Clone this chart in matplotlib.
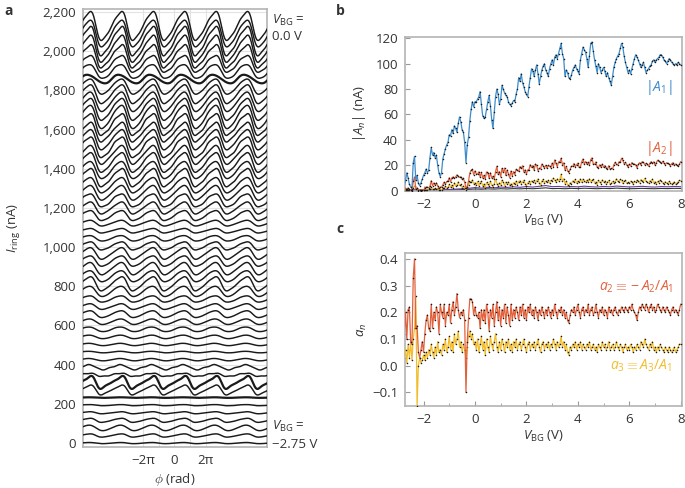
import numpy as np
import matplotlib
matplotlib.use('Agg')
import matplotlib.pyplot as plt
from matplotlib.ticker import FuncFormatter, MultipleLocator

plt.rcParams['font.family'] = ['Open Sans', 'DejaVu Sans']
plt.rcParams['mathtext.fontset'] = 'custom'
plt.rcParams['mathtext.rm'] = 'Open Sans'
plt.rcParams['mathtext.it'] = 'Open Sans:italic'
plt.rcParams['mathtext.bf'] = 'Open Sans:bold'
plt.rcParams['font.size'] = 9
plt.rcParams['text.color'] = '#333333'
plt.rcParams['axes.labelcolor'] = '#333333'
plt.rcParams['xtick.color'] = '#999999'
plt.rcParams['ytick.color'] = '#999999'
plt.rcParams['xtick.labelcolor'] = '#333333'
plt.rcParams['ytick.labelcolor'] = '#333333'

# back-gate sweep: -2.75 V ... 8.00 V in 0.05 V steps
v_start = -2.75
v_step = 0.05

# first harmonic amplitude |A1| (nA)
A1 = [3, 8, 14, 10, 5, 3, 1.5, 22, 27, 8,
      12, 6, 4, 6, 9, 12, 14, 17, 14, 16,
      26, 34, 28, 30, 26, 28, 20, 14, 11, 14,
      25, 29, 33, 36, 38, 44, 43, 48, 45, 51,
      49, 46, 53, 58, 54, 48, 46, 38, 22, 36,
      42, 55, 64, 70, 66, 70, 70, 72, 74, 78,
      68, 59, 57, 58, 64, 70, 75, 67, 56, 49,
      62, 74, 80, 76, 68, 72, 83, 80, 77, 75,
      74, 70, 68, 67, 69, 71, 70, 76, 80, 89,
      86, 92, 85, 82, 78, 76, 74, 82, 89, 96,
      94, 90, 95, 99, 92, 84, 90, 95, 98, 100,
      95, 93, 90, 96, 100, 103, 99, 105, 107, 104,
      108, 112, 116, 108, 104, 90, 95, 93, 89, 88,
      91, 95, 97, 99, 96, 94, 92, 103, 108, 113,
      111, 109, 104, 97, 106, 116, 117, 110, 103, 98,
      93, 100, 97, 93, 95, 97, 94, 90, 93, 89,
      86, 83, 90, 97, 101, 104, 106, 108, 112, 116,
      113, 106, 101, 97, 93, 95, 92, 96, 100, 104,
      107, 105, 103, 100, 97, 99, 101, 97, 93, 95,
      96, 98, 99, 102, 103, 101, 103, 104, 105, 107,
      107, 105, 103, 102, 100, 102, 104, 103, 101, 100,
      99, 100, 99, 101, 100, 99]

# a2 = -A2/A1
a2 = [0.12, 0.20, 0.10, 0.21, 0.22, 0.09, 0.08, 0.33, 0.40, 0.14,
      0.15, 0.05, 0.03, 0.06, 0.09, 0.05, 0.12, 0.17, 0.19, 0.14,
      0.13, 0.23, 0.14, 0.20, 0.17, 0.22, 0.20, 0.12, 0.23, 0.20,
      0.18, 0.23, 0.15, 0.20, 0.19, 0.23, 0.16, 0.21, 0.24, 0.19,
      0.22, 0.27, 0.21, 0.18, 0.20, 0.19, 0.21, 0.17, -0.10, 0.09,
      0.18, 0.25, 0.25, 0.24, 0.19, 0.22, 0.19, 0.18, 0.20, 0.14,
      0.21, 0.17, 0.21, 0.16, 0.23, 0.20, 0.13, 0.21, 0.18, 0.23,
      0.15, 0.20, 0.24, 0.17, 0.22, 0.15, 0.21, 0.18, 0.23, 0.16,
      0.22, 0.19, 0.15, 0.23, 0.17, 0.21, 0.18, 0.22, 0.20, 0.17,
      0.22, 0.19, 0.23, 0.18, 0.21, 0.17, 0.22, 0.20, 0.23, 0.19,
      0.21, 0.18, 0.22, 0.20, 0.17, 0.21, 0.19, 0.22, 0.20, 0.18,
      0.21, 0.19, 0.22, 0.20, 0.18, 0.21, 0.19, 0.23, 0.20, 0.18,
      0.21, 0.20, 0.22, 0.19, 0.21, 0.18, 0.20, 0.17, 0.16, 0.19,
      0.21, 0.20, 0.22, 0.19, 0.21, 0.23, 0.20, 0.18, 0.21, 0.22,
      0.19, 0.21, 0.20, 0.23, 0.19, 0.21, 0.22, 0.19, 0.20, 0.23,
      0.20, 0.18, 0.21, 0.20, 0.22, 0.19, 0.21, 0.20, 0.18, 0.22,
      0.20, 0.21, 0.19, 0.21, 0.22, 0.20, 0.19, 0.21, 0.20, 0.22,
      0.21, 0.20, 0.22, 0.21, 0.20, 0.22, 0.21, 0.23, 0.21, 0.20,
      0.19, 0.17, 0.20, 0.22, 0.21, 0.23, 0.22, 0.21, 0.23, 0.22,
      0.20, 0.22, 0.23, 0.21, 0.22, 0.20, 0.21, 0.23, 0.22, 0.21,
      0.20, 0.22, 0.21, 0.20, 0.22, 0.21, 0.20, 0.19, 0.21, 0.22,
      0.20, 0.21, 0.20, 0.19, 0.21, 0.23]

# a3 = A3/A1
a3 = [0.03, 0.06, 0.01, 0.08, 0.03, 0.09, 0.02, 0.10, 0.14, 0.26,
      -0.15, 0.00, 0.03, 0.01, 0.02, 0.04, 0.02, 0.05, 0.03, 0.06,
      0.04, 0.08, 0.05, 0.03, 0.07, 0.04, 0.09, 0.05, 0.06, 0.04,
      0.08, 0.06, 0.10, 0.05, 0.07, 0.11, 0.06, 0.09, 0.05, 0.12,
      0.08, 0.10, 0.13, 0.07, 0.09, 0.05, 0.08, 0.06, 0.03, 0.07,
      0.11, 0.13, 0.10, 0.12, 0.08, 0.09, 0.06, 0.10, 0.05, 0.08,
      0.11, 0.06, 0.09, 0.04, 0.10, 0.07, 0.05, 0.11, 0.08, 0.06,
      0.09, 0.12, 0.07, 0.05, 0.09, 0.06, 0.10, 0.08, 0.05, 0.09,
      0.07, 0.10, 0.06, 0.08, 0.05, 0.09, 0.07, 0.10, 0.06, 0.08,
      0.09, 0.06, 0.08, 0.10, 0.07, 0.05, 0.08, 0.09, 0.06, 0.08,
      0.07, 0.09, 0.06, 0.08, 0.10, 0.07, 0.05, 0.08, 0.09, 0.06,
      0.08, 0.07, 0.09, 0.06, 0.08, 0.07, 0.10, 0.08, 0.06, 0.09,
      0.07, 0.08, 0.11, 0.07, 0.09, 0.06, 0.08, 0.05, 0.04, 0.07,
      0.06, 0.08, 0.07, 0.09, 0.06, 0.08, 0.07, 0.09, 0.06, 0.08,
      0.07, 0.06, 0.08, 0.07, 0.09, 0.06, 0.07, 0.08, 0.06, 0.07,
      0.05, 0.08, 0.07, 0.06, 0.09, 0.07, 0.08, 0.06, 0.07, 0.09,
      0.06, 0.07, 0.08, 0.06, 0.07, 0.09, 0.07, 0.06, 0.08, 0.07,
      0.05, 0.07, 0.08, 0.06, 0.07, 0.06, 0.08, 0.07, 0.05, 0.07,
      0.06, 0.08, 0.07, 0.06, 0.09, 0.08, 0.07, 0.10, 0.08, 0.07,
      0.06, 0.08, 0.07, 0.09, 0.06, 0.07, 0.05, 0.07, 0.06, 0.08,
      0.07, 0.06, 0.05, 0.07, 0.06, 0.05, 0.07, 0.06, 0.05, 0.06,
      0.07, 0.05, 0.06, 0.07, 0.08, 0.08]

# higher harmonics |A4|, |A5| (nA), coarser 0.25 V steps
v_step_hi = 0.25
A4 = [0.5, 0.8, 0.4, 0.6, 0.5, 0.7, 0.6, 0.9, 1.2, 1.5, 1.8,
      2.4, 2.0, 2.6, 2.2, 2.8, 2.5, 3.0, 2.6, 3.2, 2.8, 3.4,
      4.0, 3.1, 3.3, 2.9, 3.2, 3.0, 3.5, 3.1, 2.8, 3.3, 3.0,
      3.6, 3.2, 2.9, 3.1, 3.4, 3.0, 2.8, 3.2, 3.0, 3.3, 3.1]
A5 = [0.3, 0.5, 0.3, 0.4, 0.3, 0.4, 0.4, 0.5, 0.6, 0.8, 1.0,
      1.3, 1.1, 1.4, 1.2, 1.5, 1.3, 1.6, 1.4, 1.7, 1.5, 1.8,
      2.2, 1.6, 1.7, 1.5, 1.8, 1.6, 1.9, 1.7, 1.5, 1.8, 1.6,
      2.0, 1.7, 1.5, 1.6, 1.8, 1.6, 1.5, 1.7, 1.6, 1.8, 1.7]

n_traces = 56          # traces in panel a: -2.75 V ... 0.00 V
trace_spacing = 38.7   # vertical offset between traces (nA)
thick_traces = [6, 8, 48]

A1 = np.array(A1, float)
a2 = np.array(a2, float)
a3 = np.array(a3, float)
vbg = v_start + v_step * np.arange(len(A1))
vbg_hi = v_start + v_step_hi * np.arange(len(A4))
A2 = np.abs(a2 * A1)
A3 = np.abs(a3 * A1)

c_blue = '#3d8ccb'
c_red = '#e2613c'
c_yel = '#f2bd2c'
c_pur = '#6a3d9a'
c_dark = '#2f3b2f'
spine_c = '#b4b4b4'

fig = plt.figure(figsize=(6.85, 4.88), dpi=100)

# ---------------- panel a ----------------
ax = fig.add_axes([83 / 685, 1 - 447 / 488, 184 / 685, 438 / 488])
phi = np.linspace(-6 * np.pi, 6 * np.pi, 1800)
for k in range(n_traces):
    curve = k * trace_spacing + A1[k] * (np.sin(phi) - a2[k] * np.sin(2 * phi)
                                         + a3[k] * np.sin(3 * phi))
    lw = 1.6 if k in thick_traces else 1.05
    ax.plot(phi, curve, color='#1a1a1a', lw=lw, zorder=3)

for xv in np.arange(-2, 3) * np.pi:
    ax.axvline(xv, color='#e3e3e3', lw=0.8, zorder=1)
ax.set_yticks(np.arange(0, 2201, 200))
ax.yaxis.grid(True, color='#e3e3e3', lw=0.8, zorder=1)
ax.set_axisbelow(True)
ax.yaxis.set_major_formatter(FuncFormatter(lambda v, p: f'{int(v):,}'))
ax.set_xticks([-2 * np.pi, 0, 2 * np.pi])
ax.set_xticklabels(['\u22122\u03c0', '0', '2\u03c0'])
ax.set_xlim(-18.3, 18.55)
ax.set_ylim(-20, 2215)
ax.tick_params(direction='in', length=0, labelsize=9.5, pad=5)
for s in ax.spines.values():
    s.set_color(spine_c)
    s.set_linewidth(1.2)
ax.set_ylabel(r'$I_{\mathrm{ring}}$ (nA)', fontsize=9.5)
ax.yaxis.set_label_coords(-0.33, 0.5)
ax.set_xlabel(r'$\phi$ (rad)', fontsize=9.5)
ax.xaxis.set_label_coords(0.5, -0.055)
ax.text(1.025, 0.99, r'$V_{\mathrm{BG}}$ =', transform=ax.transAxes,
        ha='left', va='top', fontsize=9.5)
ax.text(1.025, 0.952, '0.0 V', transform=ax.transAxes,
        ha='left', va='top', fontsize=9.5)
ax.text(1.025, 0.03, r'$V_{\mathrm{BG}}$ =', transform=ax.transAxes,
        ha='left', va='bottom', fontsize=9.5)
ax.text(1.025, -0.008, '\u22122.75 V', transform=ax.transAxes,
        ha='left', va='bottom', fontsize=9.5)

dot = dict(marker='o', ms=1.1, mfc='#1a1a1a', mec='none')

# ---------------- panel b ----------------
axb = fig.add_axes([405 / 685, 1 - 191 / 488, 277 / 685, 154 / 488])
axb.plot(vbg_hi, A5, color=c_dark, lw=0.8, zorder=2)
axb.plot(vbg_hi, A4, color=c_pur, lw=0.8, zorder=2)
axb.plot(vbg, A3, color=c_yel, lw=0.9, zorder=3, **dot)
axb.plot(vbg, A2, color=c_red, lw=0.9, zorder=4, **dot)
axb.plot(vbg, A1, color=c_blue, lw=0.9, zorder=5, **dot)
axb.set_xlim(-2.72, 8.05)
axb.set_ylim(-0.3, 121)
axb.set_xticks(np.arange(-2, 9, 2))
axb.set_yticks(np.arange(0, 121, 20))
axb.text(7.15, 81, r'$|A_1|$', color=c_blue, ha='center', va='center', fontsize=10)
axb.text(7.15, 33, r'$|A_2|$', color=c_red, ha='center', va='center', fontsize=10)
axb.set_ylabel(r'$|A_n|$ (nA)', fontsize=9.5)
axb.yaxis.set_label_coords(-0.135, 0.5)
axb.set_xlabel(r'$V_{\mathrm{BG}}$ (V)', fontsize=9.5)
axb.xaxis.set_label_coords(0.5, -0.145)

# ---------------- panel c ----------------
axc = fig.add_axes([405 / 685, 1 - 405.7 / 488, 277 / 685, 152.7 / 488])
axc.plot(vbg, a2, color=c_red, lw=0.9, zorder=4, **dot)
axc.plot(vbg, a3, color=c_yel, lw=0.9, zorder=3, **dot)
axc.set_xlim(-2.72, 8.05)
axc.set_ylim(-0.15, 0.422)
axc.set_xticks(np.arange(-2, 9, 2))
axc.xaxis.set_minor_locator(MultipleLocator(1))
axc.set_yticks(np.arange(-0.1, 0.41, 0.1))
axc.yaxis.set_major_formatter(FuncFormatter(
    lambda v, p: (f'{v:.1f}').replace('-', '\u2212')))
axc.text(6.25, 0.295, r'$a_2 \equiv -A_2/A_1$', color=c_red,
         ha='center', va='center', fontsize=10)
axc.text(6.45, 0.0, r'$a_3 \equiv A_3/A_1$', color=c_yel,
         ha='center', va='center', fontsize=10)
axc.set_ylabel(r'$a_n$', fontsize=9.5)
axc.yaxis.set_label_coords(-0.13, 0.5)
axc.set_xlabel(r'$V_{\mathrm{BG}}$ (V)', fontsize=9.5)
axc.xaxis.set_label_coords(0.5, -0.15)

for a in (axb, axc):
    a.tick_params(which='both', direction='in', labelsize=9.5, pad=5)
    a.tick_params(which='major', length=3.5)
    a.tick_params(which='minor', length=2.5)
    for s in a.spines.values():
        s.set_color(spine_c)
        s.set_linewidth(1.2)

fig.text(4 / 685, 1 - 4 / 488, 'a', fontsize=10, fontweight='bold', va='top')
fig.text(336 / 685, 1 - 4 / 488, 'b', fontsize=10, fontweight='bold', va='top')
fig.text(336 / 685, 1 - 222 / 488, 'c', fontsize=10, fontweight='bold', va='top')

fig.savefig('out.png', dpi=100)
